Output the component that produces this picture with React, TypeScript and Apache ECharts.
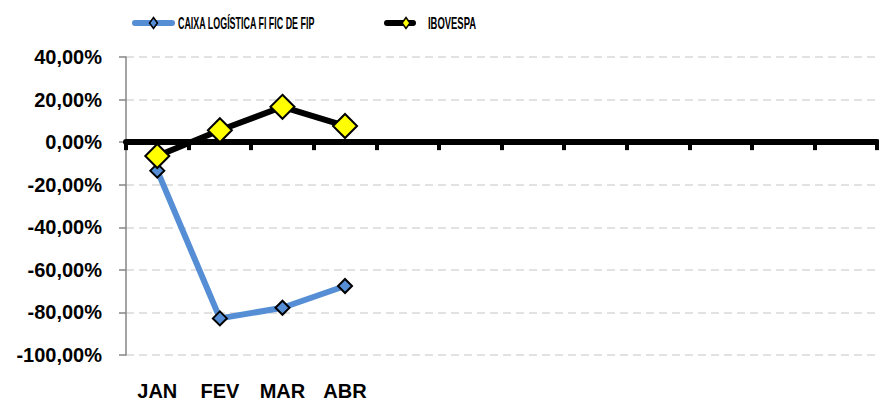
import React, { useEffect, useRef } from "react";
import * as echarts from "echarts";

const categories = ["JAN", "FEV", "MAR", "ABR", "", "", "", "", "", "", "", ""];
const caixaValues = [-13.4, -82.8, -77.8, -67.6];
const ibovValues = [-6.5, 5.6, 16.6, 7.6];
const seriesNames = ["CAIXA LOGÍSTICA FI FIC DE FIP", "IBOVESPA"];

const FONT = "'Liberation Sans', Arial, sans-serif";
const BLUE = "#558ED5";

function diamond(cx: number, cy: number, w: number, h: number, fill: string) {
  return {
    type: "polygon",
    shape: {
      points: [
        [cx, cy - h / 2],
        [cx + w / 2, cy],
        [cx, cy + h / 2],
        [cx - w / 2, cy],
      ],
    },
    style: { fill, stroke: "#000", lineWidth: 1.5 },
    z: 12,
  };
}

function legendText(x: number, y: number, text: string, sx: number) {
  return {
    type: "text",
    x,
    y,
    scaleX: sx,
    style: {
      text,
      fontFamily: FONT,
      fontWeight: "bold",
      fontSize: 16,
      fill: "#000",
      textVerticalAlign: "middle",
      verticalAlign: "middle",
      align: "left",
    },
    z: 12,
  };
}

export default function App() {
  const ref = useRef<HTMLDivElement>(null);
  useEffect(() => {
    const chart = echarts.init(ref.current!, null, { renderer: "svg" });
    chart.setOption({
      animation: false,
      backgroundColor: "#ffffff",
      grid: { left: 126, right: 2, top: 57, bottom: 46 },
      legend: { show: false, data: seriesNames },
      graphic: [
        {
          type: "line",
          shape: { x1: 135, y1: 23, x2: 172, y2: 23 },
          style: { stroke: BLUE, lineWidth: 6, lineCap: "round" },
          z: 11,
        },
        diamond(153.5, 23, 8, 11, BLUE),
        legendText(178, 23.5, seriesNames[0], 0.557),
        {
          type: "line",
          shape: { x1: 387, y1: 23, x2: 413, y2: 23 },
          style: { stroke: "#000", lineWidth: 6, lineCap: "round" },
          z: 11,
        },
        diamond(406, 23, 8, 11, "#FFFF00"),
        legendText(428, 23.5, seriesNames[1], 0.59),
      ],
      xAxis: [
        {
          type: "category",
          data: categories,
          boundaryGap: true,
          axisLine: { show: true, onZero: true, lineStyle: { color: "#000", width: 6 } },
          axisTick: { show: true, length: 8, lineStyle: { color: "#000", width: 4 } },
          axisLabel: { show: false },
          splitLine: { show: false },
          z: 3,
        },
        {
          type: "category",
          data: categories,
          position: "bottom",
          boundaryGap: true,
          axisLine: { show: false, onZero: false },
          axisTick: { show: false },
          axisLabel: {
            show: true,
            margin: 26,
            fontFamily: FONT,
            fontWeight: "bold",
            fontSize: 20,
            color: "#000",
          },
        },
      ],
      yAxis: {
        type: "value",
        min: -100,
        max: 40,
        interval: 20,
        axisLine: { show: true, lineStyle: { color: "#868686", width: 1.5 } },
        axisTick: { show: true, length: 7, lineStyle: { color: "#868686", width: 1.5 } },
        splitLine: { show: true, lineStyle: { color: "#d9d9d9", width: 1.5, type: [8, 5] } },
        axisLabel: {
          margin: 24,
          fontFamily: FONT,
          fontWeight: "bold",
          fontSize: 20,
          color: "#000",
          formatter: (v: number) => v.toFixed(2).replace(".", ",") + "%",
        },
      },
      series: [
        {
          name: seriesNames[0],
          type: "line",
          xAxisIndex: 0,
          data: caixaValues,
          symbol: "diamond",
          symbolSize: 14,
          lineStyle: { color: BLUE, width: 6 },
          itemStyle: { color: BLUE, borderColor: "#000", borderWidth: 2 },
          z: 4,
        },
        {
          name: seriesNames[1],
          type: "line",
          xAxisIndex: 0,
          data: ibovValues,
          symbol: "diamond",
          symbolSize: 24,
          lineStyle: { color: "#000", width: 6 },
          itemStyle: { color: "#FFFF00", borderColor: "#000", borderWidth: 2 },
          z: 5,
        },
      ],
    });
    return () => chart.dispose();
  }, []);
  return (
    <div
      ref={ref}
      style={{ position: "fixed", left: 0, top: 0, width: 879, height: 401 }}
    />
  );
}
